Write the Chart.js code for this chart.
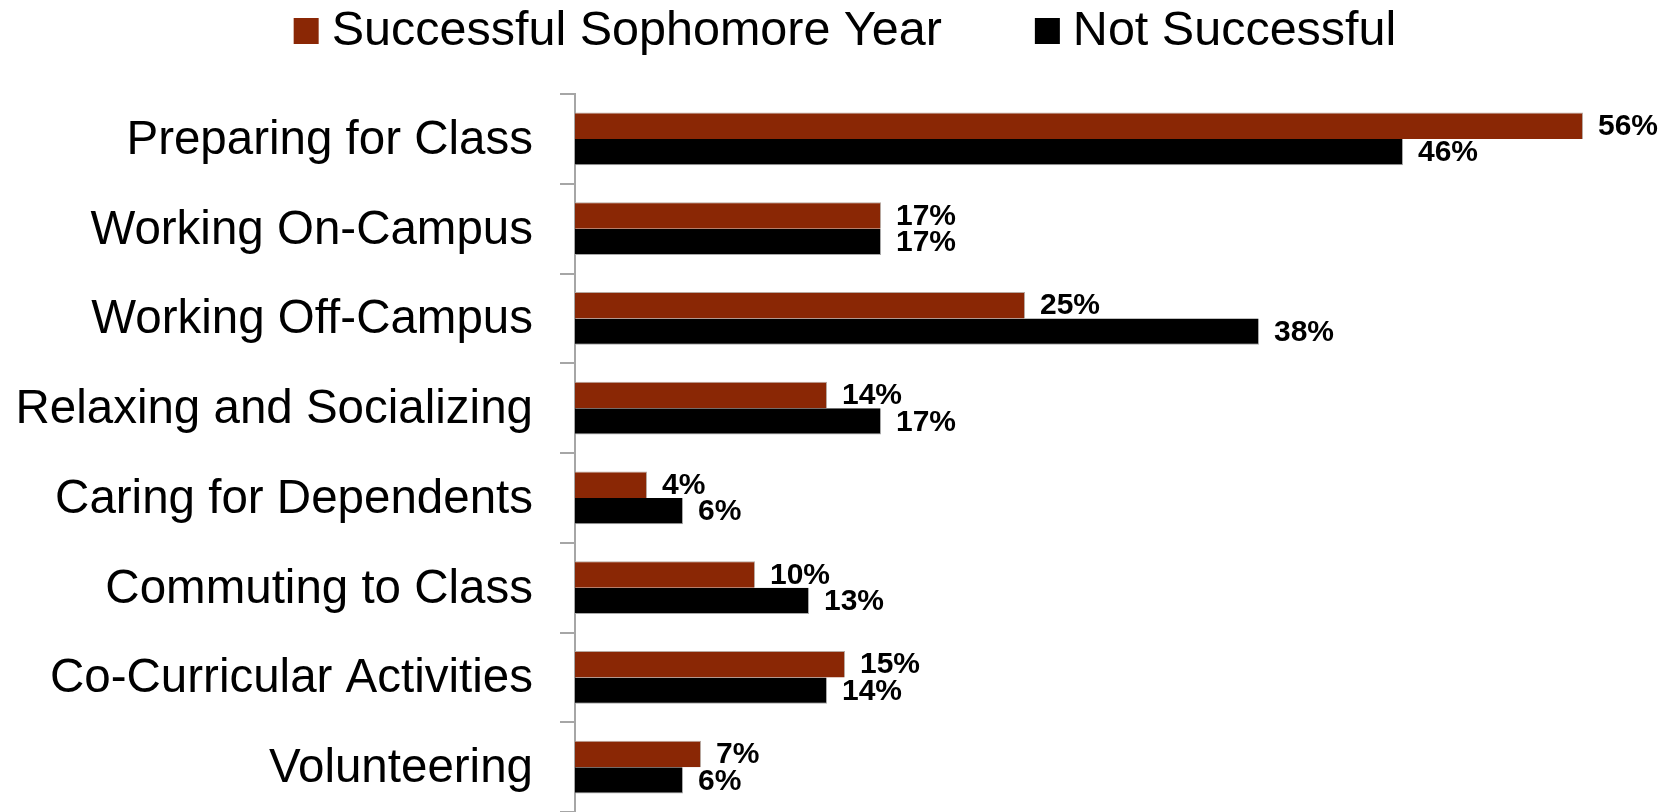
<!DOCTYPE html>
<html>
  <head>
    <meta charset="utf-8">
    <title>Time Use: Successful vs Not Successful Sophomores</title>
    <style>
      body { margin: 0; background: #fff; }
      #frame { width: 1670px; height: 812px; }
    </style>
  </head>
  <body>
    <div id="frame">
      <canvas id="chart" width="1670" height="812"></canvas>
    </div>

    <script src="https://cdn.jsdelivr.net/npm/chart.js"></script>
    <script>
      const categories = [
        'Preparing for Class',
        'Working On-Campus',
        'Working Off-Campus',
        'Relaxing and Socializing',
        'Caring for Dependents',
        'Commuting to Class',
        'Co-Curricular Activities',
        'Volunteering'
      ];
      const successful = [56, 17, 25, 14, 4, 10, 15, 7];
      const notSuccessful = [46, 17, 38, 17, 6, 13, 14, 6];
      const seriesNames = ['Successful Sophomore Year', 'Not Successful'];
      const seriesColors = ['#8a2705', '#000000'];
      const axisMax = 60;

      const fontFamily = '"Liberation Sans", Arial, sans-serif';
      Chart.defaults.font.family = fontFamily;

      // legend row across the top: square swatch + label, centred
      const topLegend = {
        id: 'topLegend',
        afterDraw(chart) {
          const ctx = chart.ctx;
          const box = 25, gap = 13, spacing = 93;
          ctx.save();
          ctx.font = '48.5px ' + fontFamily;
          ctx.textBaseline = 'alphabetic';
          const widths = chart.data.datasets.map(ds => box + gap + ctx.measureText(ds.label).width);
          const total = widths.reduce((a, b) => a + b, 0) + spacing * (widths.length - 1);
          let x = (chart.width - total) / 2 + 10;
          chart.data.datasets.forEach((ds, i) => {
            ctx.fillStyle = ds.backgroundColor;
            ctx.fillRect(x, 18, box, box + 1);
            ctx.fillStyle = '#000';
            ctx.fillText(ds.label, x + box + gap, 45);
            x += widths[i] + spacing;
          });
          ctx.restore();
        }
      };

      // percentage labels just past the end of each bar
      const valueLabels = {
        id: 'valueLabels',
        afterDatasetsDraw(chart) {
          const ctx = chart.ctx;
          ctx.save();
          ctx.font = 'bold 30px ' + fontFamily;
          ctx.fillStyle = '#000';
          ctx.textBaseline = 'middle';
          chart.data.datasets.forEach((ds, i) => {
            chart.getDatasetMeta(i).data.forEach((bar, j) => {
              ctx.fillText(ds.data[j] + '%', bar.x + 15, bar.y + 1);
            });
          });
          ctx.restore();
        }
      };

      const data = {
        labels: categories,
        datasets: [
          {
            label: seriesNames[0],
            data: successful,
            backgroundColor: seriesColors[0],
            borderColor: '#b8a8a0',
            borderWidth: { top: 1, right: 1, bottom: 0, left: 0 }
          },
          {
            label: seriesNames[1],
            data: notSuccessful,
            backgroundColor: seriesColors[1],
            borderColor: '#a8a8a8',
            borderWidth: { top: 0, right: 1, bottom: 1, left: 0 }
          }
        ]
      };

      const config = {
        type: 'bar',
        data: data,
        options: {
          indexAxis: 'y',
          responsive: false,
          animation: false,
          datasets: {
            bar: {
              barPercentage: 1,
              categoryPercentage: 0.59
            }
          },
          layout: {
            padding: { top: 94, right: 15, left: 0, bottom: 0 }
          },
          scales: {
            x: {
              display: false,
              min: 0,
              max: axisMax
            },
            y: {
              grid: {
                drawOnChartArea: false,
                tickLength: 15,
                color: '#a6a6a6',
                lineWidth: 2,
                offset: true
              },
              border: { color: '#a6a6a6', width: 2 },
              ticks: {
                color: '#000',
                padding: 27,
                labelOffset: 2,
                font: { size: 47.5 }
              },
              afterFit(scale) {
                scale.width = 575;
                scale.paddingTop = 0;
                scale.paddingBottom = 0;
              }
            }
          },
          plugins: {
            legend: { display: false },
            tooltip: { enabled: false }
          }
        },
        plugins: [topLegend, valueLabels]
      };

      const myChart = new Chart(document.getElementById('chart'), config);
    </script>
  </body>
</html>
